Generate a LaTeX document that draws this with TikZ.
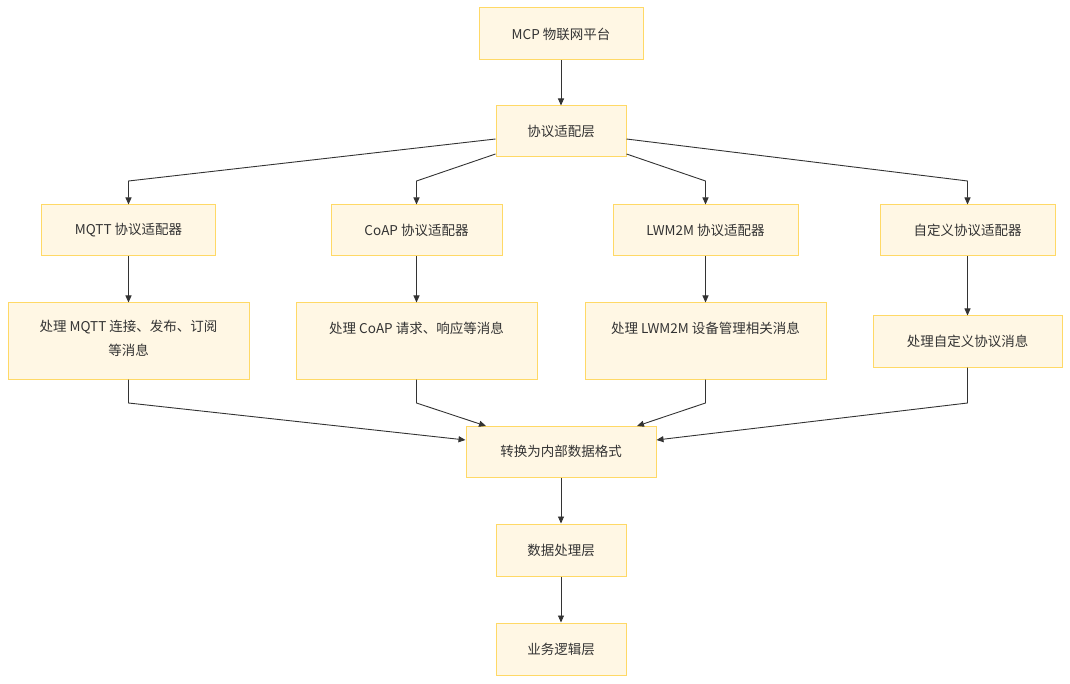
\documentclass[tikz,border=0pt]{standalone}
\usepackage{fontspec}
\setmainfont{Noto Sans CJK SC}
\usetikzlibrary{arrows.meta}
\definecolor{boxfill}{HTML}{FFF7E4}
\definecolor{boxline}{HTML}{FFD966}
\definecolor{ink}{HTML}{333333}
\tikzset{txt/.style={text=ink,font=\fontsize{13.5}{24}\selectfont}}
\begin{document}
\begin{tikzpicture}[x=1pt,y=-1pt,
  box/.style={draw=boxline,fill=boxfill,line width=1pt,txt,inner sep=0pt},
  edge/.style={draw=ink,line width=0.9pt,-{Triangle[length=7pt,width=6pt]}}]
\useasboundingbox (0,0) rectangle (1070,684);
% boxes
\node[box,minimum width=164pt,minimum height=52pt] (mcp) at (561,34) {MCP 物联网平台};
\node[box,minimum width=130pt,minimum height=51pt] (layer) at (561,131.5) {协议适配层};
\node[box,minimum width=174pt,minimum height=51pt] (mqtt) at (128.5,230.5) {MQTT 协议适配器};
\node[box,minimum width=171pt,minimum height=51pt] (coap) at (416.5,230.5) {CoAP 协议适配器};
\node[box,minimum width=185pt,minimum height=51pt] (lwm) at (705.5,230.5) {LWM2M 协议适配器};
\node[box,minimum width=175pt,minimum height=51pt] (cust) at (967.5,230.5) {自定义协议适配器};
\node[box,minimum width=241pt,minimum height=76pt] (pmqtt) at (128.5,341) {};
\node[txt,align=center,anchor=north] (tmqtt) at (128.5,317) {处理 MQTT 连接、发布、订阅\\等消息};
\node[box,minimum width=241pt,minimum height=76pt] (pcoap) at (416.5,341) {};
\node[txt] (tcoap) at (416.5,328.5) {处理 CoAP 请求、响应等消息};
\node[box,minimum width=241pt,minimum height=76pt] (plwm) at (705.5,341) {};
\node[txt] (tlwm) at (705.5,328.5) {处理 LWM2M 设备管理相关消息};
\node[box,minimum width=189pt,minimum height=51pt] (pcust) at (967.5,341.5) {处理自定义协议消息};
\node[box,minimum width=190pt,minimum height=51pt] (conv) at (561,451.5) {转换为内部数据格式};
\node[box,minimum width=130pt,minimum height=52pt] (data) at (561,550) {数据处理层};
\node[box,minimum width=130pt,minimum height=52pt] (biz) at (561,649) {业务逻辑层};
% edges
\draw[edge] (mcp) -- (layer);
\draw[edge] (layer.west |- 0,139) -- (128.5,181) -- (mqtt.north);
\draw[edge] (layer.west |- 0,154) -- (416.5,181) -- (coap.north);
\draw[edge] (layer.east |- 0,154) -- (705.5,181) -- (lwm.north);
\draw[edge] (layer.east |- 0,139) -- (967.5,181) -- (cust.north);
\draw[edge] (mqtt) -- (pmqtt);
\draw[edge] (coap) -- (pcoap);
\draw[edge] (lwm) -- (plwm);
\draw[edge] (cust) -- (pcust);
\draw[edge] (pmqtt.south) -- (128.5,403) -- (conv.west |- 0,440);
\draw[edge] (pcoap.south) -- (416.5,403) -- (486,426);
\draw[edge] (plwm.south) -- (705.5,403) -- (637,426);
\draw[edge] (pcust.south) -- (967.5,403) -- (conv.east |- 0,440);
\draw[edge] (conv) -- (data);
\draw[edge] (data) -- (biz);
\end{tikzpicture}
\end{document}
